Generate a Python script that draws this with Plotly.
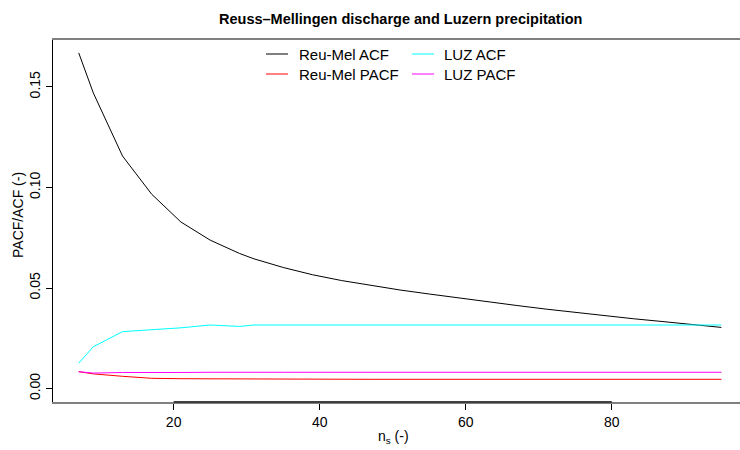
import plotly.graph_objects as go

# Aggregation levels n_s and the correlation summaries for each series
n_s = [7, 9, 13, 17, 21, 25, 29, 31, 35, 39, 43, 47, 51, 55, 59, 63, 67, 71, 75, 79, 83, 87, 91, 95]

reu_mel_acf = [0.1669, 0.1470, 0.1156, 0.0966, 0.0828, 0.0738, 0.0672, 0.0645, 0.0602, 0.0566,
               0.0537, 0.0512, 0.0490, 0.0470, 0.0450, 0.0431, 0.0413, 0.0395, 0.0378, 0.0362,
               0.0347, 0.0333, 0.0318, 0.0304]
reu_mel_pacf = [0.0084, 0.0073, 0.0061, 0.0051, 0.0049, 0.0048, 0.0047, 0.0047, 0.0047, 0.0046,
                0.0046, 0.0046, 0.0046, 0.0046, 0.0046, 0.0046, 0.0046, 0.0046, 0.0046, 0.0046,
                0.0046, 0.0046, 0.0046, 0.0046]
luz_acf = [0.0126, 0.0208, 0.0283, 0.0291, 0.0302, 0.0316, 0.0309, 0.0316, 0.0316, 0.0316,
           0.0316, 0.0316, 0.0316, 0.0316, 0.0316, 0.0316, 0.0316, 0.0316, 0.0316, 0.0316,
           0.0316, 0.0316, 0.0316, 0.0316]
luz_pacf = [0.0084, 0.0077, 0.0080, 0.0079, 0.0080, 0.0081, 0.0079, 0.0081, 0.0081, 0.0081,
            0.0081, 0.0081, 0.0081, 0.0081, 0.0081, 0.0081, 0.0081, 0.0081, 0.0081, 0.0081,
            0.0081, 0.0081, 0.0081, 0.0081]

x_ticks = [20, 40, 60, 80]
y_ticks = [0.00, 0.05, 0.10, 0.15]

series = [
    ("Reu-Mel ACF", reu_mel_acf, "#000000"),
    ("LUZ ACF", luz_acf, "#00FFFF"),
    ("Reu-Mel PACF", reu_mel_pacf, "#FF0000"),
    ("LUZ PACF", luz_pacf, "#FF00FF"),
]

W, H = 740, 450
L, R, T, B = 53, 0, 40, 48
FONT = "Liberation Sans, Arial, Helvetica, sans-serif"


def px(x):
    return (x - L) / (W - L - R)


def py(y):
    return (H - B - y) / (H - T - B)


fig = go.Figure()
for name, vals, col in series:
    fig.add_trace(go.Scatter(x=n_s, y=vals, mode="lines", name=name,
                             line=dict(color=col, width=1), showlegend=False))

shapes = []
annotations = []

# legend drawn as two columns of line keys and labels
legend_cols = [(266, 288, 297), (412, 434, 442)]
legend_rows = [54, 74]
for i, (name, _, col) in enumerate(series):
    c, r = legend_cols[i % 2], legend_rows[i // 2]
    shapes.append(dict(type="line", xref="paper", yref="paper",
                       x0=px(c[0]), x1=px(c[1]), y0=py(r), y1=py(r),
                       line=dict(color=col, width=1)))
    annotations.append(dict(text=name, xref="paper", yref="paper", x=px(c[2]), y=py(r),
                            xanchor="left", yanchor="middle", showarrow=False,
                            font=dict(size=15, color="black", family=FONT)))

# darker axis segment spanning the outer ticks
shapes.append(dict(type="line", xref="x", yref="paper", x0=x_ticks[0], x1=x_ticks[-1],
                   y0=0, y1=0, line=dict(color="#404040", width=2)))

annotations += [
    dict(text="<b>Reuss\u2013Mellingen discharge and Luzern precipitation</b>",
         xref="paper", yref="paper", x=px(400), y=py(19), xanchor="center", yanchor="middle",
         showarrow=False, font=dict(size=14.5, color="black", family=FONT)),
    dict(text="n<sub>s</sub> (-)", xref="paper", yref="paper", x=px(393), y=py(437),
         xanchor="center", yanchor="middle", showarrow=False,
         font=dict(size=14, color="black", family=FONT)),
    dict(text="PACF/ACF (-)", xref="paper", yref="paper", x=px(18), y=py(215),
         xanchor="center", yanchor="middle", showarrow=False, textangle=-90,
         font=dict(size=14, color="black", family=FONT)),
]

fig.update_layout(
    width=W, height=H,
    margin=dict(l=L, r=R, t=T, b=B, pad=0),
    paper_bgcolor="white", plot_bgcolor="white",
    shapes=shapes, annotations=annotations,
    font=dict(family=FONT, size=14, color="black"),
    xaxis=dict(range=[3.48, 97.55], tickvals=x_ticks, ticks="outside", ticklen=6,
               tickcolor="black", showgrid=False, zeroline=False,
               showline=True, linecolor="#808080", linewidth=2, mirror=True,
               tickfont=dict(size=14)),
    yaxis=dict(range=[-0.00668, 0.1733], tickvals=y_ticks, tickformat=".2f",
               ticks="outside", ticklen=6, tickcolor="black", tickangle=-90,
               showgrid=False, zeroline=False, showline=True, linecolor="black",
               linewidth=1, tickfont=dict(size=14)),
)

fig.write_html("out.html")
